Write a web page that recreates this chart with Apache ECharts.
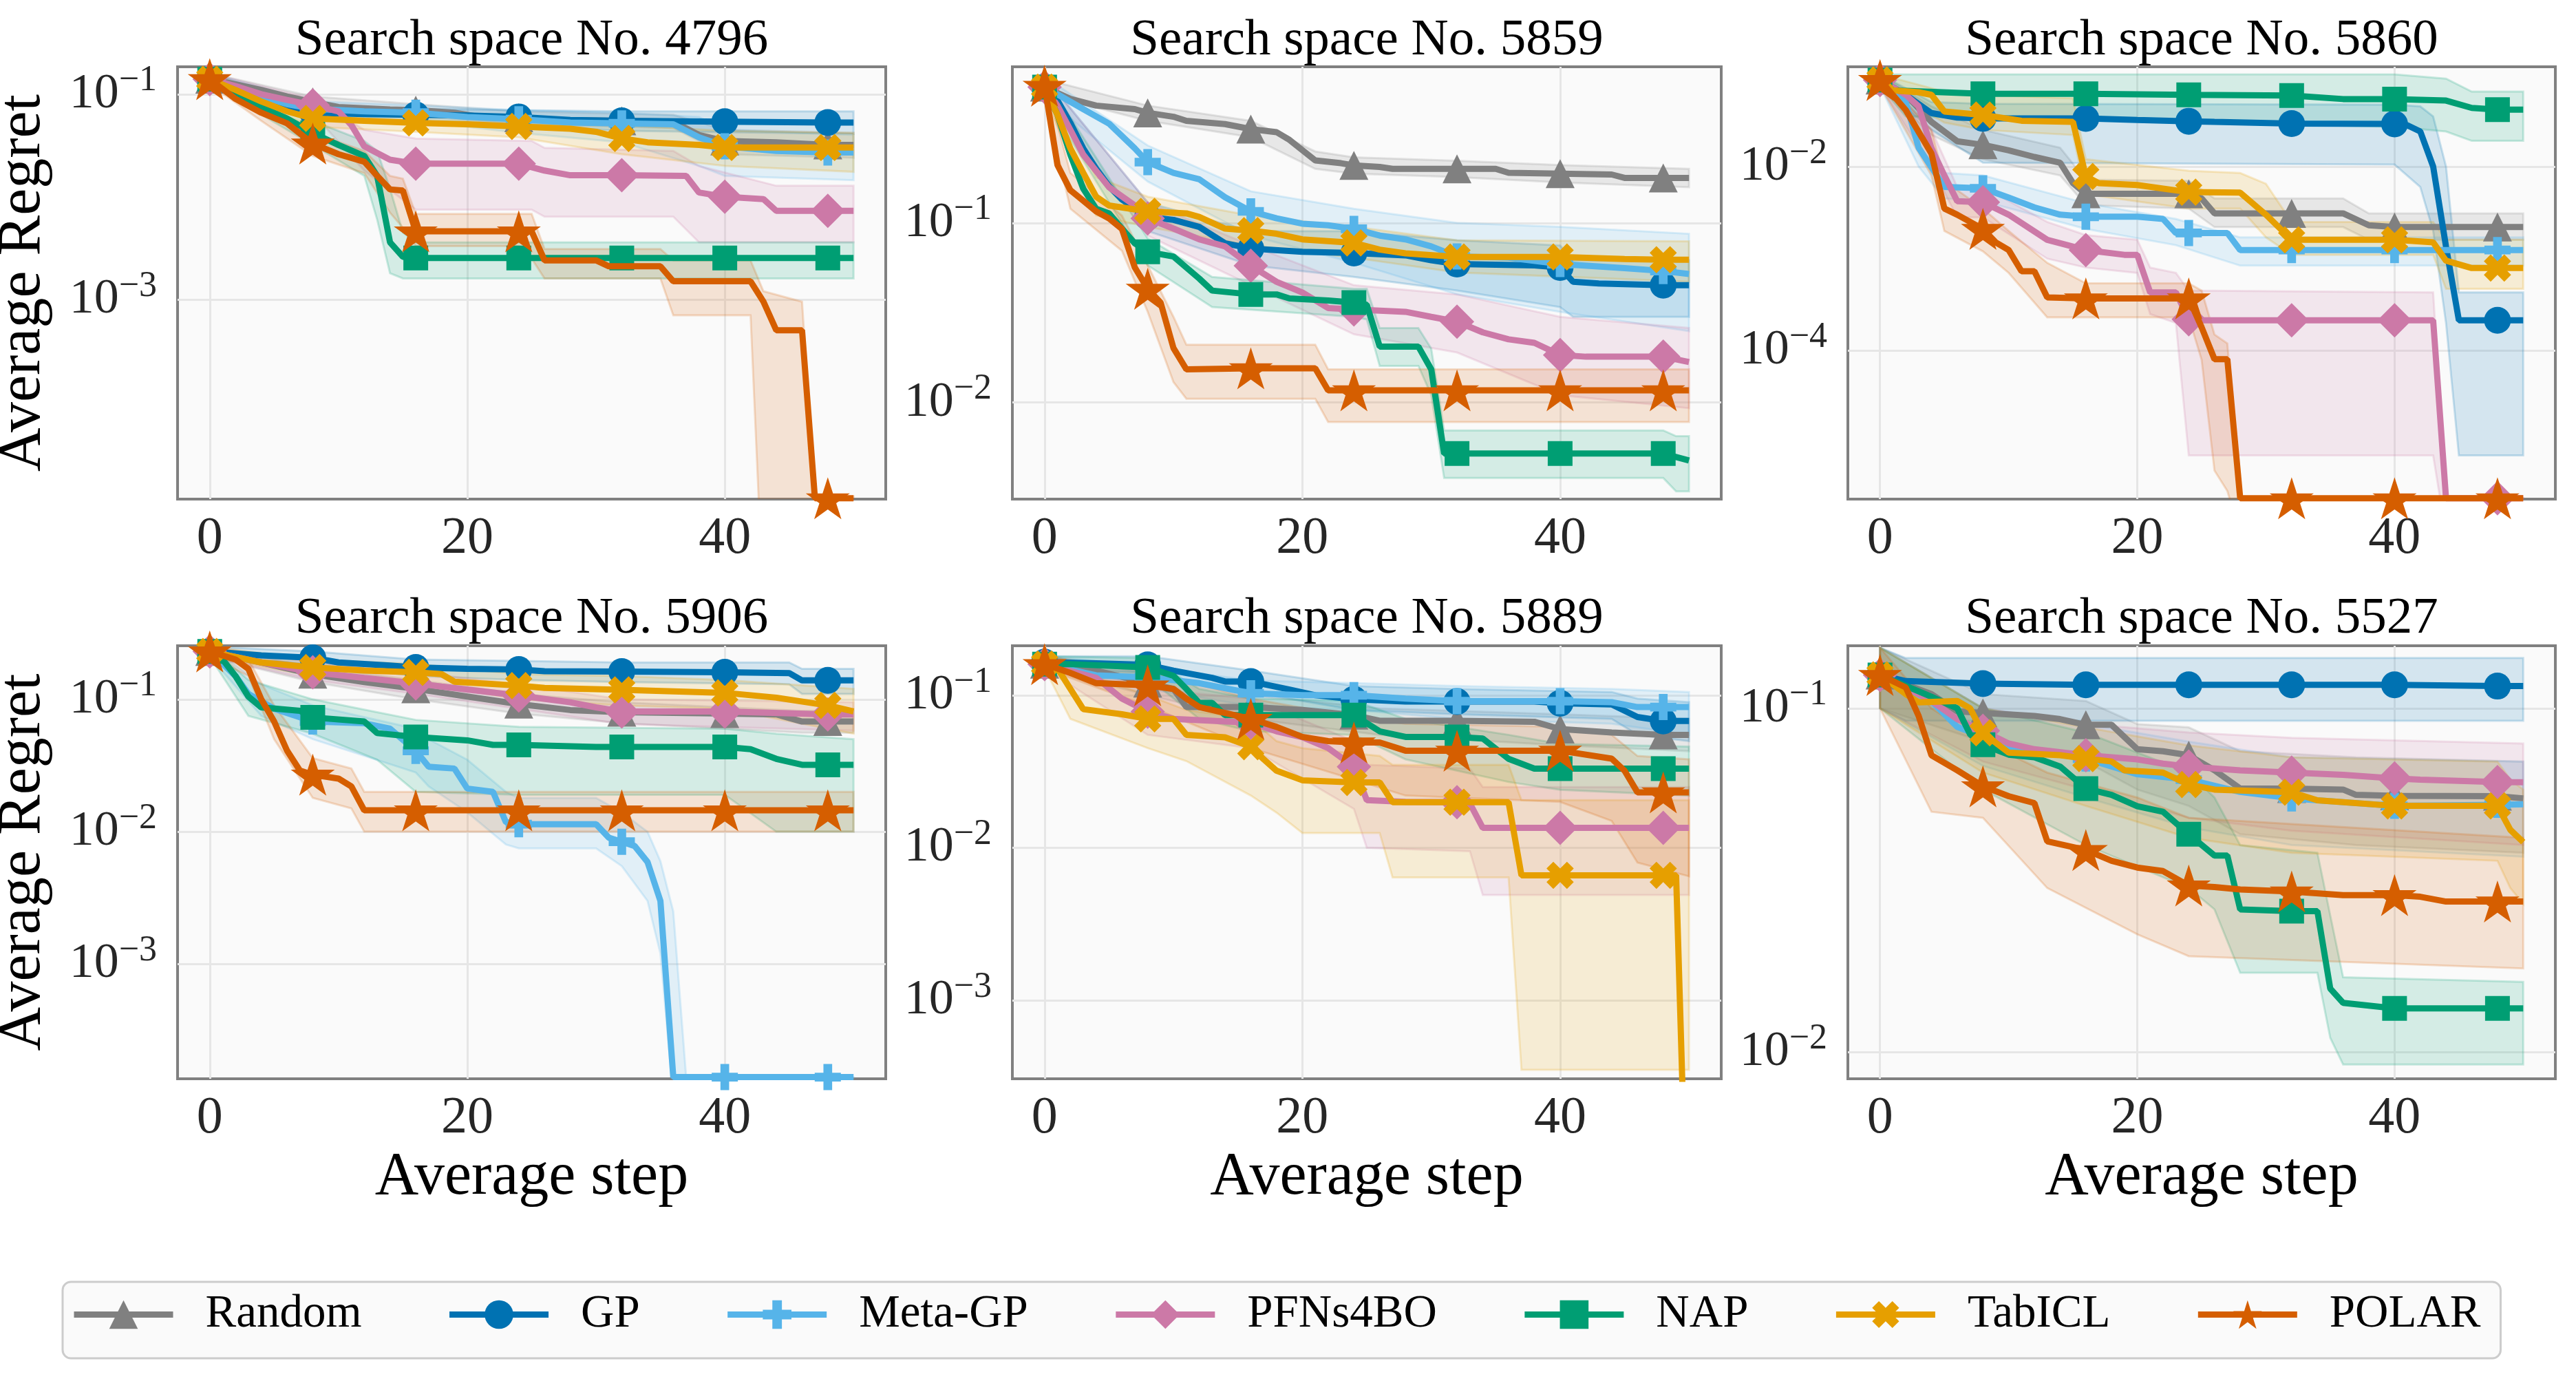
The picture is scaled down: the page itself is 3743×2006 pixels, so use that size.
<!DOCTYPE html>
<html>
<head>
<meta charset="utf-8">
<script src="https://cdn.jsdelivr.net/npm/echarts@6/dist/echarts.min.js"></script>
<style>
html, body { margin: 0; padding: 0; background: #fff; }
#chart { width: 3743px; height: 2006px; }
</style>
</head>
<body>
<div id="chart"></div>
<script>
// ---- data (regret values) ----
const methods = ['Random', 'GP', 'Meta-GP', 'PFNs4BO', 'NAP', 'TabICL', 'POLAR'];
const panelIds = [4796, 5859, 5860, 5906, 5889, 5527];
const xTicks = [0, 20, 40];

const range4796 = [1.13e-5, 0.185], ticks4796 = [1e-3, 1e-1];
const range5859 = [0.0029, 0.74], ticks5859 = [1e-2, 1e-1];
const range5860 = [2.45e-6, 0.121], ticks5860 = [1e-4, 1e-2];
const range5906 = [1.36e-4, 0.254], ticks5906 = [1e-3, 1e-2, 1e-1];
const range5889 = [3.06e-4, 0.211], ticks5889 = [1e-3, 1e-2, 1e-1];
const range5527 = [0.00836, 0.152], ticks5527 = [1e-2, 1e-1];

// panel 4796
const random4796 = [[0,0.14],[2,0.125],[4,0.11],[6,0.095],[8,0.084],[10,0.075],[14,0.071],[16,0.07],[19,0.066],[21,0.06],[24,0.059],[27,0.056],[32,0.055],[36,0.054],[38,0.04],[40,0.035],[44,0.034],[48,0.032],[50,0.032]];
const randomBand4796 = [[0,0.125,0.16],[8,0.075,0.095],[16,0.062,0.08],[24,0.051,0.068],[36,0.047,0.063],[40,0.026,0.045],[50,0.024,0.042]];
const gp4796 = [[0,0.14],[2,0.11],[4,0.085],[6,0.072],[8,0.066],[12,0.064],[16,0.063],[20,0.062],[24,0.06],[28,0.056],[32,0.055],[40,0.054],[48,0.053],[50,0.053]];
const gpBand4796 = [[0,0.125,0.16],[8,0.058,0.075],[16,0.055,0.072],[24,0.05,0.07],[32,0.044,0.068],[50,0.041,0.068]];
const metaGp4796 = [[0,0.14],[2,0.115],[4,0.095],[6,0.08],[8,0.072],[12,0.068],[16,0.066],[20,0.06],[24,0.057],[28,0.053],[32,0.052],[36,0.051],[38,0.038],[40,0.031],[44,0.028],[48,0.027],[50,0.027]];
const metaGpBand4796 = [[0,0.125,0.16],[8,0.06,0.085],[16,0.055,0.078],[24,0.042,0.07],[32,0.034,0.066],[38,0.02,0.06],[40,0.016,0.045],[50,0.0145,0.04]];
const pfn4796 = [[0,0.14],[2,0.12],[4,0.1],[6,0.088],[8,0.078],[10,0.068],[11,0.05],[12,0.031],[14,0.023],[16,0.021],[24,0.021],[26,0.018],[28,0.0162],[32,0.0162],[37,0.016],[38,0.011],[40,0.01],[43,0.0095],[44,0.0073],[48,0.0073],[50,0.0073]];
const pfnBand4796 = [[0,0.125,0.16],[8,0.065,0.09],[12,0.018,0.045],[16,0.0075,0.037],[25,0.0075,0.035],[26,0.0064,0.03],[36,0.0064,0.028],[38,0.0036,0.02],[44,0.0036,0.0128],[50,0.0036,0.0128]];
const nap4796 = [[0,0.14],[2,0.105],[4,0.075],[6,0.058],[8,0.042],[10,0.032],[12,0.025],[13,0.016],[14,0.0036],[15,0.0026],[16,0.00253],[24,0.00253],[32,0.00253],[40,0.00253],[48,0.00253],[50,0.00253]];
const napBand4796 = [[0,0.125,0.16],[8,0.032,0.055],[12,0.016,0.035],[13,0.006,0.028],[14,0.0018,0.012],[15,0.0016,0.0045],[16,0.0016,0.0036],[50,0.0016,0.0036]];
const tab4796 = [[0,0.14],[2,0.11],[4,0.085],[6,0.068],[8,0.058],[12,0.055],[16,0.0525],[20,0.051],[24,0.0485],[28,0.046],[30,0.043],[32,0.037],[34,0.034],[38,0.032],[40,0.0302],[48,0.0302],[50,0.0302]];
const tabBand4796 = [[0,0.125,0.16],[8,0.048,0.07],[16,0.043,0.065],[24,0.038,0.062],[32,0.026,0.05],[40,0.02,0.044],[50,0.0175,0.042]];
const polar4796 = [[0,0.14],[2,0.09],[4,0.066],[6,0.052],[8,0.033],[10,0.026],[12,0.022],[13,0.016],[14,0.0118],[15,0.0115],[16,0.0046],[24,0.0046],[25,0.0046],[26,0.0024],[30,0.0024],[31,0.0021],[35,0.0021],[36,0.0015],[42,0.0015],[43,0.00095],[44,0.0005],[46,0.0005],[47,1.15e-5],[48,1.15e-5],[50,1.15e-5]];
const polarBand4796 = [[0,0.125,0.16],[4,0.055,0.078],[8,0.025,0.042],[12,0.017,0.028],[14,0.007,0.016],[15,0.005,0.015],[16,0.0033,0.0068],[24,0.0033,0.0068],[25,0.0025,0.0068],[26,0.0016,0.0031],[35,0.0016,0.0031],[36,0.0007,0.0024],[42,0.0007,0.0024],[43,1e-6,0.0012],[46,1e-6,0.00095],[47,1e-6,1.2e-5],[50,1e-6,1.2e-5]];

// panel 5859
const random5859 = [[0,0.57],[2,0.49],[4,0.45],[7,0.43],[8,0.41],[10,0.39],[11,0.37],[14,0.355],[16,0.333],[18,0.32],[19,0.29],[21,0.223],[23,0.215],[24,0.209],[26,0.205],[27,0.2],[32,0.2],[35,0.2],[36,0.19],[40,0.188],[44,0.186],[45,0.178],[48,0.178],[50,0.178]];
const randomBand5859 = [[0,0.52,0.63],[8,0.37,0.45],[16,0.3,0.37],[21,0.2,0.25],[24,0.188,0.232],[32,0.18,0.222],[40,0.168,0.21],[50,0.158,0.2]];
const gp5859 = [[0,0.57],[1,0.48],[2,0.36],[3,0.26],[4,0.2],[5,0.16],[6,0.135],[8,0.108],[10,0.104],[12,0.095],[14,0.077],[16,0.072],[20,0.069],[24,0.068],[28,0.066],[30,0.062],[32,0.059],[38,0.058],[40,0.0565],[41,0.047],[43,0.046],[48,0.045],[50,0.045]];
const gpBand5859 = [[0,0.5,0.65],[8,0.09,0.13],[16,0.058,0.09],[24,0.05,0.09],[32,0.042,0.08],[40,0.034,0.075],[41,0.03,0.062],[50,0.03,0.062]];
const metaGp5859 = [[0,0.57],[1,0.52],[3,0.43],[5,0.357],[7,0.26],[8,0.218],[10,0.19],[12,0.175],[14,0.139],[16,0.116],[18,0.106],[20,0.099],[22,0.097],[24,0.0927],[26,0.085],[28,0.081],[30,0.074],[32,0.065],[36,0.064],[40,0.059],[45,0.056],[48,0.054],[50,0.052]];
const metaGpBand5859 = [[0,0.5,0.65],[8,0.17,0.27],[16,0.085,0.15],[24,0.06,0.12],[32,0.04,0.1],[40,0.032,0.095],[50,0.025,0.087]];
const pfn5859 = [[0,0.57],[1,0.45],[2,0.33],[3,0.24],[5,0.158],[7,0.125],[8,0.106],[10,0.093],[12,0.081],[14,0.074],[16,0.0578],[18,0.047],[20,0.041],[22,0.0336],[24,0.033],[28,0.032],[30,0.03],[32,0.0282],[34,0.0246],[36,0.0225],[38,0.0215],[40,0.0184],[42,0.018],[48,0.018],[50,0.0168]];
const pfnBand5859 = [[0,0.5,0.65],[8,0.085,0.13],[16,0.045,0.075],[24,0.024,0.045],[32,0.019,0.04],[40,0.011,0.03],[50,0.0093,0.026]];
const nap5859 = [[0,0.57],[1,0.4],[2,0.24],[3,0.155],[4,0.12],[5,0.113],[6,0.093],[7,0.077],[8,0.069],[10,0.065],[12,0.049],[13,0.042],[16,0.04],[18,0.04],[19,0.038],[22,0.037],[24,0.036],[25,0.035],[26,0.0205],[29,0.0205],[30,0.0153],[31,0.0052],[32,0.0052],[40,0.0052],[48,0.0052],[50,0.00476]];
const napBand5859 = [[0,0.5,0.65],[8,0.058,0.082],[13,0.034,0.05],[24,0.03,0.043],[25,0.029,0.043],[26,0.016,0.026],[29,0.016,0.026],[30,0.011,0.02],[31,0.0038,0.007],[48,0.0038,0.007],[49,0.0032,0.0065],[50,0.0032,0.0065]];
const tab5859 = [[0,0.57],[1,0.4],[2,0.26],[3,0.19],[4,0.14],[5,0.125],[8,0.116],[11,0.113],[12,0.108],[14,0.093],[16,0.0906],[18,0.087],[20,0.081],[24,0.0774],[26,0.071],[28,0.0677],[32,0.0646],[40,0.0646],[45,0.063],[48,0.0624],[50,0.0624]];
const tabBand5859 = [[0,0.5,0.65],[4,0.11,0.18],[8,0.095,0.14],[16,0.075,0.11],[24,0.064,0.095],[32,0.053,0.08],[50,0.047,0.079]];
const polar5859 = [[0,0.58],[1,0.21],[2,0.152],[3,0.133],[4,0.116],[5,0.106],[6,0.0926],[7,0.0565],[8,0.043],[9,0.036],[10,0.0201],[11,0.0153],[16,0.0155],[21,0.0155],[22,0.0117],[24,0.0117],[32,0.0117],[40,0.0117],[48,0.0117],[50,0.0117]];
const polarBand5859 = [[0,0.5,0.65],[2,0.12,0.19],[6,0.07,0.11],[8,0.032,0.058],[10,0.013,0.03],[11,0.0105,0.021],[21,0.0105,0.021],[22,0.0078,0.0153],[50,0.0078,0.0153]];

// panel 5860
const random5860 = [[0,0.087],[2,0.06],[4,0.0305],[6,0.0188],[8,0.0172],[10,0.015],[12,0.0127],[14,0.011],[15,0.0066],[16,0.00505],[24,0.00505],[25,0.0045],[26,0.0031],[32,0.0031],[36,0.0031],[38,0.0023],[40,0.0022],[48,0.0022],[50,0.0022]];
const randomBand5860 = [[0,0.075,0.1],[4,0.022,0.045],[8,0.012,0.025],[14,0.008,0.016],[16,0.0038,0.0072],[24,0.0035,0.007],[26,0.0022,0.0045],[36,0.0022,0.0045],[38,0.0016,0.0031],[50,0.0016,0.0031]];
const gp5860 = [[0,0.087],[2,0.06],[4,0.038],[6,0.034],[8,0.0333],[16,0.0333],[20,0.032],[24,0.031],[26,0.0305],[32,0.0292],[40,0.029],[41,0.028],[42,0.024],[43,0.01],[44,0.00135],[45,0.000214],[48,0.000214],[50,0.000214]];
const gpBand5860 = [[0,0.075,0.1],[4,0.025,0.05],[8,0.011,0.048],[40,0.0105,0.047],[42,0.006,0.045],[43,0.002,0.035],[44,0.0002,0.01],[45,7.3e-6,0.00043],[50,7.3e-6,0.00043]];
const metaGp5860 = [[0,0.087],[2,0.05],[3,0.016],[5,0.006],[8,0.0058],[10,0.0046],[12,0.0036],[14,0.003],[16,0.00285],[20,0.00285],[22,0.0027],[23,0.0019],[24,0.0019],[27,0.0019],[28,0.00124],[32,0.00124],[40,0.00124],[48,0.00124],[50,0.00124]];
const metaGpBand5860 = [[0,0.075,0.1],[3,0.01,0.03],[5,0.0045,0.0085],[8,0.0042,0.008],[16,0.0021,0.004],[23,0.0014,0.0027],[28,0.00084,0.0017],[50,0.00084,0.0017]];
const pfn5860 = [[0,0.087],[2,0.06],[3,0.045],[4,0.0158],[5,0.008],[6,0.0042],[8,0.0041],[10,0.003],[13,0.0016],[16,0.00124],[19,0.0011],[20,0.0011],[21,0.00043],[23,0.00043],[24,0.00022],[25,0.000214],[32,0.000214],[40,0.000214],[43,0.000214],[44,2.5e-6],[48,2.5e-6],[50,2.5e-6]];
const pfnBand5860 = [[0,0.075,0.1],[4,0.01,0.025],[6,0.0028,0.006],[8,0.0028,0.006],[13,0.001,0.0025],[16,0.0008,0.0018],[20,0.0007,0.0016],[21,0.00025,0.0008],[23,0.0002,0.0007],[24,7.3e-6,0.00045],[43,7.3e-6,0.00043],[44,1e-6,2.5e-6],[50,1e-6,2.5e-6]];
const nap5860 = [[0,0.087],[1,0.067],[8,0.0615],[16,0.0615],[24,0.06],[32,0.059],[36,0.054],[40,0.054],[44,0.052],[46,0.0433],[48,0.0415],[50,0.0415]];
const napBand5860 = [[0,0.075,0.1],[2,0.035,0.1],[40,0.027,0.1],[44,0.024,0.09],[46,0.019,0.065],[50,0.019,0.065]];
const tab5860 = [[0,0.087],[1,0.067],[3,0.064],[4,0.06],[5,0.0396],[8,0.0363],[11,0.0314],[15,0.0305],[16,0.0078],[17,0.0066],[20,0.0063],[24,0.00527],[28,0.0052],[30,0.003],[32,0.0016],[40,0.0016],[43,0.0015],[44,0.00095],[46,0.00079],[48,0.00079],[50,0.00079]];
const tabBand5860 = [[0,0.075,0.1],[5,0.03,0.065],[8,0.025,0.06],[15,0.022,0.055],[16,0.005,0.012],[24,0.0035,0.009],[28,0.0035,0.0085],[30,0.0017,0.0065],[32,0.0011,0.0025],[43,0.0011,0.0025],[44,0.00047,0.0016],[50,0.00047,0.0016]];
const polar5860 = [[0,0.087],[2,0.041],[4,0.0138],[5,0.0035],[6,0.003],[8,0.0021],[9,0.0015],[10,0.00124],[11,0.00073],[12,0.00073],[13,0.00038],[16,0.00037],[24,0.00037],[25,0.00018],[26,8.1e-5],[27,8.1e-5],[28,2.5e-6],[32,2.5e-6],[40,2.5e-6],[48,2.5e-6],[50,2.5e-6]];
const polarBand5860 = [[0,0.075,0.1],[4,0.008,0.025],[5,0.002,0.007],[8,0.0012,0.0035],[10,0.0007,0.002],[13,0.00023,0.0009],[16,0.00023,0.00054],[24,0.00023,0.00054],[25,0.00008,0.00045],[26,5e-6,0.00015],[27,3e-6,0.00012],[28,1e-6,2.5e-6],[50,1e-6,2.5e-6]];

// panel 5906
const random5906 = [[0,0.23],[4,0.19],[8,0.155],[12,0.135],[16,0.12],[20,0.105],[24,0.092],[28,0.083],[32,0.08],[40,0.078],[44,0.077],[46,0.068],[48,0.068],[50,0.068]];
const randomBand5906 = [[0,0.21,0.25],[8,0.135,0.175],[16,0.1,0.14],[24,0.078,0.11],[32,0.066,0.095],[46,0.056,0.082],[50,0.056,0.082]];
const gp5906 = [[0,0.23],[4,0.215],[8,0.206],[10,0.19],[14,0.18],[16,0.174],[20,0.17],[24,0.168],[26,0.163],[32,0.162],[40,0.16],[45,0.158],[46,0.139],[48,0.139],[50,0.139]];
const gpBand5906 = [[0,0.21,0.25],[8,0.185,0.23],[16,0.15,0.2],[24,0.14,0.195],[32,0.135,0.19],[45,0.13,0.19],[46,0.11,0.17],[50,0.11,0.17]];
const metaGp5906 = [[0,0.23],[2,0.15],[3,0.11],[5,0.085],[8,0.068],[12,0.066],[14,0.06],[16,0.0408],[17,0.031],[19,0.03],[20,0.0212],[22,0.02],[23,0.0118],[24,0.0114],[30,0.0114],[31,0.009],[32,0.0084],[33,0.0078],[34,0.0059],[35,0.003],[36,0.00014],[40,0.00014],[48,0.00014],[50,0.00014]];
const metaGpBand5906 = [[0,0.21,0.25],[4,0.075,0.13],[8,0.05,0.09],[16,0.028,0.06],[17,0.022,0.05],[20,0.014,0.035],[23,0.008,0.02],[24,0.0075,0.018],[30,0.0075,0.018],[32,0.0055,0.014],[34,0.003,0.01],[35,0.0012,0.006],[36,0.0001,0.0025],[37,0.0001,0.00014],[50,0.0001,0.00014]];
const pfn5906 = [[0,0.23],[4,0.19],[8,0.16],[12,0.145],[16,0.132],[18,0.125],[24,0.107],[28,0.095],[30,0.087],[32,0.081],[40,0.081],[48,0.077],[50,0.077]];
const pfnBand5906 = [[0,0.21,0.25],[8,0.14,0.19],[16,0.11,0.16],[24,0.085,0.13],[32,0.065,0.1],[50,0.058,0.095]];
const nap5906 = [[0,0.23],[1,0.2],[2,0.15],[3,0.105],[4,0.087],[7,0.082],[8,0.073],[12,0.068],[13,0.0556],[16,0.052],[20,0.049],[22,0.0453],[24,0.0453],[30,0.0437],[32,0.0437],[40,0.0437],[42,0.042],[44,0.0355],[46,0.032],[48,0.032],[50,0.032]];
const napBand5906 = [[0,0.21,0.25],[3,0.075,0.14],[8,0.055,0.1],[13,0.035,0.08],[16,0.02,0.07],[24,0.019,0.062],[40,0.019,0.06],[44,0.01,0.055],[50,0.01,0.05]];
const tab5906 = [[0,0.23],[4,0.19],[8,0.174],[12,0.165],[16,0.16],[18,0.155],[19,0.136],[24,0.127],[26,0.122],[32,0.118],[40,0.112],[44,0.103],[47,0.093],[48,0.09],[50,0.081]];
const tabBand5906 = [[0,0.21,0.25],[8,0.15,0.2],[16,0.135,0.185],[24,0.1,0.155],[32,0.09,0.15],[40,0.085,0.14],[50,0.055,0.12]];
const polar5906 = [[0,0.23],[2,0.2],[3,0.17],[4,0.1],[5,0.068],[6,0.041],[7,0.029],[8,0.027],[10,0.0252],[11,0.022],[12,0.0145],[16,0.0145],[24,0.0145],[32,0.0145],[40,0.0145],[48,0.0145],[50,0.0145]];
const polarBand5906 = [[0,0.21,0.25],[3,0.15,0.2],[5,0.05,0.09],[8,0.018,0.036],[11,0.015,0.03],[12,0.01,0.02],[50,0.01,0.02]];

// panel 5889
const random5889 = [[0,0.16],[4,0.145],[8,0.12],[10,0.11],[11,0.0836],[16,0.0836],[20,0.08],[24,0.074],[26,0.068],[32,0.068],[38,0.067],[40,0.06],[44,0.057],[48,0.055],[50,0.055]];
const randomBand5889 = [[0,0.15,0.18],[8,0.1,0.14],[16,0.07,0.1],[26,0.055,0.082],[40,0.047,0.075],[50,0.043,0.07]];
const gp5889 = [[0,0.165],[4,0.162],[8,0.158],[10,0.145],[13,0.13],[14,0.123],[16,0.123],[19,0.109],[21,0.1],[24,0.094],[28,0.091],[32,0.091],[38,0.091],[40,0.0887],[44,0.087],[46,0.072],[48,0.0678],[50,0.0678]];
const gpBand5889 = [[0,0.15,0.18],[8,0.14,0.18],[16,0.105,0.145],[24,0.08,0.115],[32,0.075,0.11],[44,0.07,0.105],[46,0.055,0.095],[50,0.05,0.09]];
const metaGp5889 = [[0,0.16],[4,0.135],[8,0.131],[12,0.12],[16,0.103],[20,0.1],[24,0.1],[28,0.095],[32,0.0914],[40,0.0914],[44,0.09],[46,0.0836],[48,0.0836],[50,0.0836]];
const metaGpBand5889 = [[0,0.15,0.18],[8,0.11,0.155],[16,0.085,0.125],[24,0.08,0.12],[32,0.07,0.115],[44,0.065,0.11],[50,0.055,0.105]];
const pfn5889 = [[0,0.16],[4,0.13],[6,0.095],[8,0.078],[10,0.07],[16,0.066],[18,0.058],[20,0.053],[22,0.045],[24,0.034],[25,0.0205],[28,0.02],[32,0.0199],[33,0.0195],[34,0.0135],[40,0.0135],[48,0.0135],[50,0.0135]];
const pfnBand5889 = [[0,0.15,0.18],[8,0.055,0.11],[16,0.045,0.095],[24,0.018,0.05],[25,0.01,0.035],[33,0.0095,0.033],[34,0.0049,0.025],[50,0.0049,0.025]];
const nap5889 = [[0,0.16],[2,0.16],[8,0.152],[10,0.134],[11,0.11],[12,0.089],[13,0.089],[14,0.074],[16,0.074],[24,0.074],[26,0.058],[28,0.0533],[32,0.0533],[34,0.052],[36,0.0383],[38,0.033],[40,0.033],[48,0.033],[50,0.033]];
const napBand5889 = [[0,0.15,0.18],[8,0.13,0.175],[12,0.07,0.11],[16,0.058,0.095],[24,0.055,0.092],[28,0.038,0.07],[36,0.027,0.055],[40,0.024,0.048],[50,0.022,0.046]];
const tab5889 = [[0,0.16],[1,0.15],[2,0.11],[3,0.081],[6,0.075],[8,0.07],[10,0.07],[11,0.055],[14,0.053],[16,0.046],[17,0.038],[18,0.032],[20,0.0277],[24,0.0268],[26,0.0268],[27,0.0199],[32,0.0199],[36,0.0199],[37,0.0066],[40,0.0066],[48,0.0066],[49,0.0066],[50,1e-5]];
const tabBand5889 = [[0,0.15,0.18],[2,0.07,0.15],[8,0.045,0.1],[11,0.037,0.08],[16,0.022,0.07],[18,0.017,0.05],[20,0.0125,0.045],[26,0.0125,0.04],[27,0.0064,0.035],[36,0.0064,0.035],[37,0.00035,0.0205],[50,0.00035,0.0205]];
const polar5889 = [[0,0.16],[2,0.14],[4,0.12],[8,0.116],[10,0.11],[11,0.095],[12,0.0836],[16,0.07],[18,0.062],[20,0.0533],[22,0.05],[24,0.049],[26,0.049],[28,0.0433],[32,0.0433],[40,0.0433],[44,0.0384],[45,0.032],[46,0.0231],[48,0.0231],[50,0.0231]];
const polarBand5889 = [[0,0.15,0.18],[8,0.085,0.145],[16,0.045,0.095],[24,0.028,0.072],[28,0.022,0.065],[40,0.02,0.062],[44,0.015,0.055],[46,0.008,0.04],[50,0.0065,0.038]];

// panel 5527
const random5527 = [[0,0.125],[4,0.11],[6,0.098],[8,0.097],[12,0.095],[14,0.093],[16,0.0895],[18,0.0895],[20,0.076],[22,0.075],[24,0.073],[26,0.066],[28,0.0584],[32,0.0584],[36,0.058],[37,0.056],[40,0.0556],[48,0.0555],[50,0.0547]];
const randomBand5527 = [[0,0.1,0.15],[8,0.08,0.11],[16,0.07,0.105],[20,0.058,0.09],[24,0.052,0.088],[28,0.043,0.075],[37,0.04,0.072],[50,0.038,0.07]];
const gp5527 = [[0,0.125],[2,0.12],[8,0.118],[16,0.117],[24,0.117],[32,0.117],[40,0.117],[48,0.116],[50,0.116]];
const gpBand5527 = [[0,0.1,0.15],[2,0.092,0.14],[50,0.092,0.14]];
const metaGp5527 = [[0,0.125],[4,0.105],[6,0.0883],[8,0.0826],[10,0.077],[16,0.0714],[20,0.0643],[24,0.062],[28,0.0571],[32,0.0547],[40,0.052],[48,0.0524],[50,0.0526]];
const metaGpBand5527 = [[0,0.1,0.15],[8,0.068,0.1],[16,0.055,0.09],[24,0.045,0.08],[32,0.04,0.072],[50,0.037,0.07]];
const pfn5527 = [[0,0.125],[3,0.11],[4,0.105],[6,0.093],[8,0.086],[10,0.079],[12,0.076],[16,0.073],[20,0.071],[22,0.069],[24,0.0677],[28,0.066],[32,0.065],[36,0.064],[40,0.0625],[42,0.062],[48,0.061],[50,0.0609]];
const pfnBand5527 = [[0,0.1,0.15],[8,0.07,0.1],[16,0.058,0.09],[24,0.048,0.085],[32,0.044,0.082],[50,0.04,0.079]];
const nap5527 = [[0,0.125],[4,0.108],[6,0.1],[7,0.084],[8,0.0783],[10,0.0733],[12,0.072],[14,0.0677],[16,0.0584],[18,0.056],[20,0.0519],[22,0.05],[24,0.043],[26,0.0373],[27,0.0373],[28,0.026],[32,0.0257],[34,0.0257],[35,0.0153],[36,0.0139],[40,0.0134],[48,0.0134],[50,0.0134]];
const napBand5527 = [[0,0.1,0.15],[8,0.058,0.1],[16,0.04,0.085],[24,0.03,0.065],[26,0.026,0.055],[28,0.017,0.04],[34,0.017,0.038],[35,0.011,0.025],[36,0.0092,0.0165],[50,0.0092,0.016]];
const tab5527 = [[0,0.125],[2,0.11],[3,0.104],[6,0.105],[7,0.1],[8,0.0848],[10,0.0743],[14,0.073],[16,0.0714],[18,0.07],[19,0.066],[22,0.065],[24,0.06],[26,0.058],[32,0.057],[34,0.054],[40,0.052],[48,0.052],[49,0.0443],[50,0.0408]];
const tabBand5527 = [[0,0.1,0.15],[8,0.065,0.1],[16,0.052,0.088],[24,0.042,0.078],[32,0.038,0.072],[48,0.036,0.07],[49,0.03,0.062],[50,0.027,0.058]];
const polar5527 = [[0,0.125],[2,0.115],[3,0.095],[4,0.073],[6,0.066],[8,0.0593],[10,0.0555],[12,0.053],[13,0.041],[16,0.0387],[18,0.036],[20,0.0344],[22,0.0336],[24,0.0305],[26,0.0302],[28,0.0297],[32,0.0293],[36,0.0286],[40,0.0286],[42,0.0283],[44,0.0274],[48,0.0274],[50,0.0274]];
const polarBand5527 = [[0,0.1,0.15],[4,0.05,0.1],[8,0.048,0.08],[13,0.03,0.065],[20,0.022,0.055],[24,0.019,0.048],[50,0.0175,0.042]];

// ---- table the chart is built from ----
const panels = [
  { range: range4796, ticks: ticks4796, lines: [random4796, gp4796, metaGp4796, pfn4796, nap4796, tab4796, polar4796], bands: [randomBand4796, gpBand4796, metaGpBand4796, pfnBand4796, napBand4796, tabBand4796, polarBand4796] },
  { range: range5859, ticks: ticks5859, lines: [random5859, gp5859, metaGp5859, pfn5859, nap5859, tab5859, polar5859], bands: [randomBand5859, gpBand5859, metaGpBand5859, pfnBand5859, napBand5859, tabBand5859, polarBand5859] },
  { range: range5860, ticks: ticks5860, lines: [random5860, gp5860, metaGp5860, pfn5860, nap5860, tab5860, polar5860], bands: [randomBand5860, gpBand5860, metaGpBand5860, pfnBand5860, napBand5860, tabBand5860, polarBand5860] },
  { range: range5906, ticks: ticks5906, lines: [random5906, gp5906, metaGp5906, pfn5906, nap5906, tab5906, polar5906], bands: [randomBand5906, gpBand5906, metaGpBand5906, pfnBand5906, napBand5906, tabBand5906, polarBand5906] },
  { range: range5889, ticks: ticks5889, lines: [random5889, gp5889, metaGp5889, pfn5889, nap5889, tab5889, polar5889], bands: [randomBand5889, gpBand5889, metaGpBand5889, pfnBand5889, napBand5889, tabBand5889, polarBand5889] },
  { range: range5527, ticks: ticks5527, lines: [random5527, gp5527, metaGp5527, pfn5527, nap5527, tab5527, polar5527], bands: [randomBand5527, gpBand5527, metaGpBand5527, pfnBand5527, napBand5527, tabBand5527, polarBand5527] }
];

// ---- styling ----
const FONT = '"Liberation Serif", "DejaVu Serif", serif';
const colors = ['#808080', '#0072b2', '#56b4e9', '#cc79a7', '#009e73', '#e69f00', '#d55e00'];
const plusPath = 'path://M-3,-1H-1V-3H1V-1H3V1H1V3H-1V1H-3Z';
const starPath = 'path://M0,-1000L225,-309L951,-309L363,118L588,809L0,382L-588,809L-363,118L-951,-309L-225,-309Z';
const symbols = ['triangle', 'circle', plusPath, 'diamond', 'rect', plusPath, starPath];
const symbolRotates = [0, 0, 0, 0, 0, 45, 0];
const symbolSizes = [42, 39, 38, 50, 36, 42, [64, 61]];

const colLeft = [258, 1471, 2685];
const colWidth = [1029, 1030, 1028];
const rowTop = [97, 938];
const rowHeight = [628, 629];
const titleY = [59, 899];

function rgba(hex, a) {
  const n = parseInt(hex.slice(1), 16);
  return 'rgba(' + (n >> 16) + ',' + ((n >> 8) & 255) + ',' + (n & 255) + ',' + a + ')';
}

function supLabel(v) {
  const k = Math.round(v);
  return '{b|10}{s|' + (k < 0 ? '\u2212' : '') + Math.abs(k) + '}';
}

const grid = [], xAxis = [], yAxis = [], bandSeries = [], lineSeries = [], graphic = [];

panels.forEach((p, i) => {
  const col = i % 3, row = Math.floor(i / 3);
  grid.push({
    left: colLeft[col], top: rowTop[row], width: colWidth[col], height: rowHeight[row],
    show: true, backgroundColor: '#fafafa', borderColor: '#808080', borderWidth: 4,
    outerBoundsMode: 'none'
  });
  xAxis.push({
    gridIndex: i, type: 'value', min: -2.5, max: 52.5,
    axisLine: { show: false },
    axisTick: { show: false, customValues: xTicks },
    axisLabel: { customValues: xTicks, margin: 20, fontSize: 76, fontFamily: FONT, color: '#262626' },
    splitLine: { show: true, lineStyle: { color: '#e6e6e6', width: 3 } },
    name: row === 1 ? 'Average step' : '',
    nameLocation: 'middle', nameGap: 100, nameMoveOverlap: false,
    nameTextStyle: { fontSize: 88, fontFamily: FONT, color: '#000' }
  });
  const yVals = p.ticks.map(t => Math.log10(t));
  yAxis.push({
    gridIndex: i, type: 'value',
    min: Math.log10(p.range[0]), max: Math.log10(p.range[1]),
    axisLine: { show: false },
    axisTick: { show: false, customValues: yVals },
    axisLabel: {
      customValues: yVals, margin: 30, formatter: supLabel,
      rich: {
        b: { fontSize: 72, fontFamily: FONT, color: '#262626', lineHeight: 72 },
        s: { fontSize: 52, fontFamily: FONT, color: '#262626', lineHeight: 72, padding: [0, 0, 38, 0] }
      }
    },
    splitLine: { show: true, lineStyle: { color: '#e6e6e6', width: 3 } },
    name: col === 0 ? 'Average Regret' : '',
    nameLocation: 'middle', nameGap: 180, nameRotate: 90, nameMoveOverlap: false,
    nameTextStyle: { fontSize: 88, fontFamily: FONT, color: '#000' }
  });
  graphic.push({
    type: 'text', x: colLeft[col] + colWidth[col] / 2, y: titleY[row], silent: true,
    style: { text: 'Search space No. ' + panelIds[i], fontSize: 75, fontFamily: FONT, fill: '#000', align: 'center', verticalAlign: 'middle' }
  });

  methods.forEach((m, k) => {
    const band = p.bands[k];
    bandSeries.push({
      type: 'custom', name: m + ' band', coordinateSystem: 'cartesian2d',
      xAxisIndex: i, yAxisIndex: i, silent: true, clip: true, z: 1,
      data: band.map(r => [r[0], Math.log10(r[1]), Math.log10(r[2])]),
      encode: { x: 0, y: [1, 2] },
      renderItem: (params, api) => {
        if (params.dataIndex !== 0) return;
        const upper = band.map(r => api.coord([r[0], Math.log10(r[2])]));
        const lower = band.map(r => api.coord([r[0], Math.log10(r[1])])).reverse();
        return {
          type: 'polygon',
          shape: { points: upper.concat(lower) },
          style: { fill: rgba(colors[k], 0.15), stroke: rgba(colors[k], 0.2), lineWidth: 3 }
        };
      }
    });
    lineSeries.push({
      type: 'line', name: m, xAxisIndex: i, yAxisIndex: i,
      data: p.lines[k].map(d => [d[0], Math.log10(d[1])]),
      symbol: symbols[k], symbolRotate: symbolRotates[k],
      symbolSize: v => (v[0] % 8 === 0 && v[0] <= 48) ? symbolSizes[k] : 0,
      showSymbol: true, showAllSymbol: true,
      lineStyle: { width: 9, color: colors[k] },
      itemStyle: { color: colors[k] },
      z: 3 + k, silent: true, clip: true,
      emphasis: { disabled: true }
    });
  });
});

const chart = echarts.init(document.getElementById('chart'));
chart.setOption({
  animation: false,
  backgroundColor: '#ffffff',
  grid, xAxis, yAxis, graphic,
  legend: {
    data: methods, left: 91, top: 1862, orient: 'horizontal',
    itemWidth: 144, itemHeight: 52, itemGap: 123,
    padding: [14, 29, 30, 12],
    backgroundColor: '#fafafa', borderColor: '#cccccc', borderWidth: 3, borderRadius: 12,
    lineStyle: { width: 9 },
    textStyle: { fontSize: 67, fontFamily: FONT, color: '#000', padding: [0, 0, 0, 42] },
    selectedMode: false
  },
  series: bandSeries.concat(lineSeries)
});
</script>
</body>
</html>
